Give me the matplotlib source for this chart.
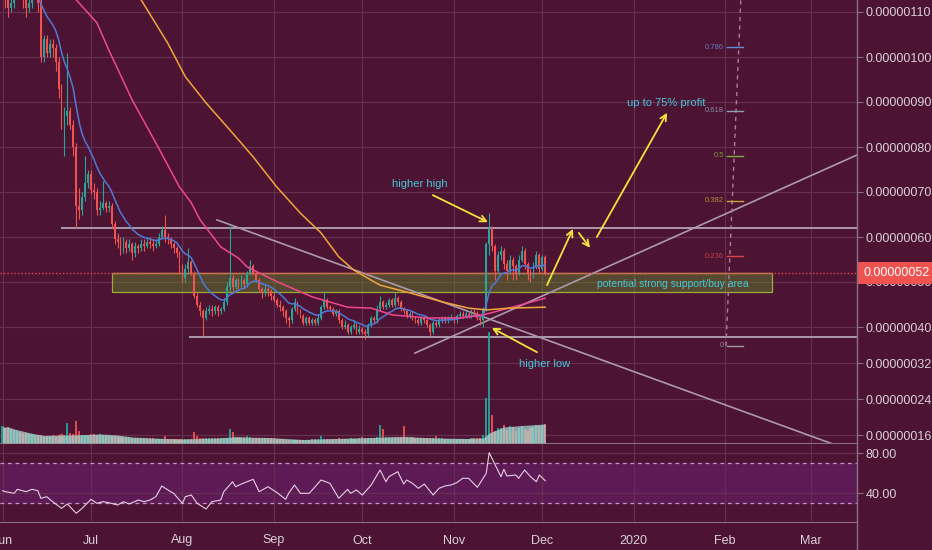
import numpy as np
import pandas as pd
import matplotlib
matplotlib.use('Agg')
import matplotlib.pyplot as plt
from matplotlib.patches import Rectangle
from matplotlib.lines import Line2D

plt.rcParams['font.family'] = ['Liberation Sans', 'DejaVu Sans']

# prices in units of 1e-8 (axis shows 0.000000xx), x = days since 2019-06-01
start = pd.Timestamp('2019-06-01')
first_open = 115

closes = [
    # Jun
    116, 113, 111, 112, 115, 117, 116, 113, 111, 112, 114, 116, 112, 100, 104,
    101, 103, 102, 99, 93, 85, 87, 88, 85, 80, 67, 66, 69, 72, 74,
    # Jul
    70.5, 70, 66, 66.5, 67.5, 66.5, 67, 63, 59.5, 59, 57, 59, 57.5, 58.5, 56.5, 58,
    57.5, 58.5, 58, 59, 58.5, 58, 58.5, 60, 61.5, 60, 59.5, 58.5, 57.5, 56.5, 53,
    # Aug
    51, 53, 54.5, 52, 47, 45, 43.5, 42, 43.5, 44, 43.5, 44.5, 43.5, 44, 45.5, 49,
    51, 49, 50.5, 49.5, 50.5, 49.5, 52, 53.5, 52, 50.5, 48.5, 47.5, 48.5, 48, 47,
    # Sep
    46, 45, 44.5, 43.5, 42, 41.5, 44, 45.5, 43.5, 42.5, 41, 42, 41, 41.5, 41,
    42, 44.5, 46, 44.5, 44, 43, 43.5, 41.5, 40, 40.5, 39, 40, 40.5, 39, 39.5,
    # Oct
    39, 38.5, 40.5, 42, 41.5, 44, 45.5, 44.5, 45, 46, 45, 46.5, 45.5, 44, 43.5, 42.5,
    43, 42, 41.5, 41, 42, 41.5, 40.5, 39, 41, 40.5, 41.5, 42, 41.5, 42, 42,
    # Nov
    41.5, 42.5, 43, 42.5, 43, 42.5, 43.5, 43, 42, 41.5, 44, 58.5, 62, 58, 52.5,
    56, 57, 54, 52.5, 55, 53.5, 52, 55, 57, 54, 52, 51.5, 53.5, 56, 53,
    # Dec
    55.5, 52,
]
highs = [
    118, 118, 114, 113, 116, 119, 118, 117, 114, 113, 115, 117, 117, 113, 105,
    105, 104, 104, 103, 100, 94, 89, 101, 89, 86, 81, 71, 70, 78, 75,
    75, 72, 71, 68, 72.5, 68, 68, 67.5, 63.5, 61, 60, 60, 59.5, 59.5, 59, 59,
    58.5, 59.5, 59.5, 60, 60, 59.5, 59.5, 61, 62.5, 65, 61, 60, 59, 58, 57,
    54, 54, 57.5, 55, 52.5, 47.5, 45.5, 44, 44.5, 45, 45, 45, 45, 44.5, 46.5, 50,
    62.5, 51.5, 51, 51, 51.5, 51, 52.5, 55, 54, 52.5, 51, 49, 49.5, 49, 48.5,
    47.5, 46.5, 46, 45, 44, 42.5, 44.5, 46.5, 45.5, 44, 43, 42.5, 42.5, 42, 42,
    43, 45, 48, 46.5, 45, 44.5, 44, 44, 42, 41.5, 41, 40.5, 41.5, 41, 40.5,
    40, 39.5, 41, 42.5, 42.5, 45, 47, 46, 45.5, 46.5, 46.5, 47.5, 47, 46, 44.5, 44,
    43.5, 43.5, 42.5, 42, 42.5, 42.5, 42, 41, 41.5, 41.5, 42, 42.5, 42.5, 42.5, 43,
    42.5, 43, 43.5, 43.5, 43.5, 43.5, 44, 44, 43.5, 42.5, 44.5, 59, 65.3, 62.5, 58.5,
    57, 58, 57.5, 55, 56, 55.5, 54, 56, 58, 57.5, 54.5, 53, 54.5, 57, 56.5,
    56, 56,
]
lows = [
    113, 111, 109, 110, 111, 114, 114, 111, 109, 110, 111, 113, 110, 99, 99,
    100, 100, 100, 97, 91, 84, 78, 85, 84, 78, 62, 64, 65, 68, 71,
    69.5, 68.5, 65, 65, 66, 65.5, 65.5, 62, 58.5, 57.5, 56, 56.5, 56.5, 57, 55, 55.5,
    56.5, 57, 57, 57.5, 57.5, 57, 57.5, 58, 59.5, 59, 58.5, 57.5, 56.5, 55.5, 52,
    50, 50, 52, 51.5, 46.5, 44.5, 42.5, 38, 41.5, 43, 42.5, 43, 42.5, 43, 43.5, 45,
    48, 48, 48.5, 48.5, 49, 48.5, 49, 51.5, 51.5, 50, 48, 46.5, 47, 47, 46,
    45.5, 44.5, 43.5, 42.5, 41, 40, 41, 43.5, 43, 42, 40.5, 40.5, 40.5, 40.5, 40.5,
    40.5, 41.5, 44, 44, 43.5, 42.5, 42.5, 41, 39.5, 39.5, 38.5, 38.5, 39.5, 38.5, 38.5,
    38.5, 37.3, 38, 40, 41, 41, 43.5, 44, 44, 44.5, 44.5, 44.5, 45, 43.5, 43, 42,
    42, 41.5, 41, 40.5, 40.5, 41, 40, 38, 38.5, 40, 40, 41, 41, 41, 41.5,
    41, 41, 42, 42, 42, 42, 42, 42.5, 41.5, 40.5, 40, 43.5, 56, 57, 50.5,
    52, 55, 53, 50.5, 52, 50.5, 50.5, 51.5, 54.5, 53, 50.5, 50, 51, 53, 52,
    52.5, 51.5,
]
volume = [
    17, 15, 16, 14, 13, 12, 11, 10, 10, 9, 9, 8, 8, 8, 7,
    7, 7, 8, 7, 8, 9, 8, 20, 10, 9, 22, 12, 8, 8, 8,
    9, 9, 8, 9, 8, 8, 8, 7, 7, 7, 6, 6, 6, 6, 5, 5,
    5, 5, 5, 5, 5, 5, 4.5, 4.5, 4.5, 7, 4, 4, 4, 4, 4,
    4, 4, 4, 4, 11, 7, 5, 5, 5, 5, 5, 5, 5, 5.5, 5, 5,
    14, 11, 6, 6, 6, 6, 7, 6, 5.5, 5.5, 5.5, 5.5, 5.5, 5, 5,
    5, 4.5, 4, 4, 3.5, 3.5, 3.5, 3.5, 3.5, 3.5, 3.5, 3.5, 3.5, 4, 4,
    4, 7, 4, 4, 4, 4, 4, 5, 4.5, 4.5, 4.5, 5, 4.5, 4.5, 5,
    6, 5, 5, 5.5, 5.5, 6, 18, 14, 6, 6, 6, 6, 6, 6.5, 17, 6,
    6, 6, 5.5, 5.5, 5.5, 5, 5, 5, 5, 7, 5, 5, 4.5, 4.5, 4.5,
    4.5, 4.5, 4.5, 4.5, 4.5, 4.5, 5, 5, 5, 5, 8, 45, 111, 28, 12,
    15, 15, 18, 13, 17, 16, 12, 15, 17, 14, 12, 15, 16, 18, 17,
    18, 19,
]

# volume moving average
vol_ma_days = [0, 2, 4, 10, 14, 22, 29, 33, 39, 44, 50, 56, 61, 73, 78, 90, 102,
               113, 125, 136, 147, 158, 163, 165, 170, 176, 184]
vol_ma_vals = [16, 16, 14, 9.7, 7.5, 8, 8.5, 9, 8, 6, 5, 4.5, 4, 5, 6, 5.5, 3.5,
               4.5, 5.5, 6.5, 5, 4.5, 5, 10, 16, 17.5, 19]

# slow moving averages
pink_days = [25, 32, 36, 44, 52, 60, 64, 67, 74, 80, 83, 94, 105, 117, 125, 132,
             144, 155, 163, 174, 184]
pink_vals = [112.7, 107.6, 101.6, 90.4, 80.9, 71.1, 67.6, 63.8, 57.8, 55.3, 53.3,
             49.8, 46.7, 44.4, 44.2, 42.7, 42.0, 42.0, 42.7, 44.6, 46.4]
yellow_days = [47, 56, 62, 69, 78, 85, 93, 101, 108, 114, 119, 125, 128, 138, 149,
               158, 164, 172, 184]
yellow_vals = [112.7, 103.1, 95.6, 89.8, 83.1, 77.8, 71.1, 65.3, 60.9, 55.6, 52.7,
               50.4, 49.3, 47.6, 45.6, 44.2, 43.8, 44.2, 44.4]

rsi_days = [0, 1, 4, 5, 8, 10, 12, 13, 15, 17, 20, 22, 25, 27, 30, 32, 34, 36, 39,
            41, 43, 46, 48, 50, 52, 54, 57, 58, 61, 62, 64, 66, 69, 71, 74, 75, 78,
            79, 81, 85, 87, 90, 93, 96, 97, 99, 101, 104, 108, 111, 114, 117, 118,
            120, 122, 125, 128, 130, 131, 134, 136, 137, 139, 141, 143, 146, 148,
            150, 152, 154, 156, 158, 161, 164, 165, 169, 170, 171, 174, 175, 177,
            179, 181, 182, 184]
rsi_vals = [42.3, 41.3, 39.7, 43.7, 41.3, 43.7, 42.3, 34.7, 36.3, 31.3, 24.7, 29,
            19.7, 24.7, 33.7, 29.7, 31.3, 30.3, 28, 31.3, 29, 33, 31.3, 33, 36.3, 47,
            41.3, 39.7, 29.7, 36.3, 38, 29.7, 24, 31.3, 33, 41.3, 51.3, 46.3, 49, 53.7,
            41.3, 46.3, 40.5, 33.7, 39.7, 48, 39.7, 39.7, 53, 49.7, 34.7, 43.7, 39.7,
            43, 38, 48, 63, 51.3, 56.3, 61.3, 49, 53, 49.7, 44.7, 49, 38, 44.7, 47,
            48, 50.3, 54.7, 54.7, 45.7, 59.7, 80.3, 56.3, 63.7, 57, 58, 54.7, 63,
            56.3, 51.3, 58, 52.3]

price_ticks = [16, 24, 32, 40, 50, 60, 70, 80, 90, 100, 110]
rsi_ticks = [40, 80]

# drawings
resistance = (20.2, 62.0)          # start day, level
support = (63.6, 37.8)
zone = (37.1, 260.9, 47.8, 52.0)   # x0, x1, low, high
desc_line = [(72.7, 63.8), (284.0, 13.4)]
asc_line = [(139.8, 34.2), (292.0, 78.9)]
fib_low, fib_high = 35.8, 120.3
fib_ratios = [0, 0.236, 0.382, 0.5, 0.618, 0.786]
fib_colors = ['#a09aa0', '#d9454a', '#c2a53e', '#7cad45', '#8aa3b3', '#5f8fd6']
fib_x = (245.6, 251.0)
fib_diag = [(245.3, fib_low), (250.8, fib_high)]
arrows = [((145.9, 69.3), (164.6, 63.3)),
          ((181.2, 34.4), (165.9, 39.8)),
          ((184.6, 49.3), (193.4, 61.8)),
          ((195.4, 60.9), (199.2, 57.6)),
          ((201.5, 60.0), (225.3, 87.6))]
notes = [("higher high", 141.5, 71.8),
         ("higher low", 183.9, 31.8),
         ("up to 75% profit", 224.9, 89.8),
         ("potential strong support/buy area", 227.3, 49.6)]

BG = '#4d1333'
GRID = '#63304f'
AXIS = '#8a6f82'
TXT = '#d9d2d8'
UP = '#26a69a'
DOWN = '#ef5350'
CYAN = '#45c6d8'
YEL = '#f2e43c'
DRAW = '#ab9aab'

W, H = 932, 550
fig = plt.figure(figsize=(W / 100, H / 100), dpi=100, facecolor=BG)
ax = fig.add_axes([0, 1 - 443 / H, 857 / W, 443 / H])
rax = fig.add_axes([0, 1 - 522 / H, 857 / W, 78 / H])
for a in (ax, rax):
    a.set_facecolor(BG)
    for s in ('left', 'top'):
        a.spines[s].set_visible(False)
    a.spines['right'].set_color(AXIS)
    a.spines['bottom'].set_color(AXIS)

xlim = (-0.85, 289.7)
month_starts = pd.date_range('2019-06-01', '2020-03-01', freq='MS')
month_pos = [(m - start).days for m in month_starts]
month_lbl = ['2020' if m.month == 1 else m.strftime('%b') for m in month_starts]

# ---- candles
c = np.array(closes, dtype=float)
o = np.concatenate([[first_open], c[:-1]])
hi = np.maximum(np.array(highs, dtype=float), np.maximum(o, c))
lo = np.minimum(np.array(lows, dtype=float), np.minimum(o, c))
days = np.arange(len(c))
cols = np.where(c >= o, UP, DOWN)
ax.vlines(days, lo, hi, colors=cols, lw=0.8, zorder=3)
ax.bar(days, np.maximum(np.abs(c - o), 0.25), bottom=np.minimum(o, c), width=0.62,
       color=cols, linewidth=0, zorder=3.1)

ema = pd.Series(c).ewm(span=12, adjust=False).mean()
ax.plot(days, ema, color='#4f79d6', lw=1.1, zorder=4)
ax.plot(pink_days, pink_vals, color='#f0488c', lw=1.1, zorder=4)
ax.plot(yellow_days, yellow_vals, color='#f0a53a', lw=1.1, zorder=4)

# ---- drawings
ax.plot([resistance[0], xlim[1]], [resistance[1]] * 2, color=DRAW, lw=1.4, zorder=2)
ax.plot([support[0], xlim[1]], [support[1]] * 2, color=DRAW, lw=1.4, zorder=2)
ax.add_patch(Rectangle((zone[0], zone[2]), zone[1] - zone[0], zone[3] - zone[2],
                       facecolor='#62922a', alpha=0.42, edgecolor='none', zorder=1.5))
ax.add_patch(Rectangle((zone[0], zone[2]), zone[1] - zone[0], zone[3] - zone[2],
                       facecolor='none', edgecolor='#9aab3c', lw=0.9, zorder=1.6))
ax.plot([zone[0], zone[1]], [zone[3], zone[3]], color='#c08a52', lw=0.9, zorder=1.7)
for ln in (desc_line, asc_line):
    ax.plot([ln[0][0], ln[1][0]], [ln[0][1], ln[1][1]], color=DRAW, lw=1.2, zorder=2)

ax.axhline(c[-1], color='#e8434d', lw=1, ls=(0, (1, 1.5)), zorder=2.5)

# fibonacci
ax.plot([p[0] for p in fib_diag], [p[1] for p in fib_diag], color='#b27a9e', lw=1,
        ls=(0, (3, 3)), zorder=2)
for r, col in zip(fib_ratios, fib_colors):
    lvl = fib_low + r * (fib_high - fib_low)
    ax.plot(fib_x, [lvl, lvl], color=col, lw=1, zorder=2)
    ax.text(fib_x[0] - 1.0, lvl, f"{r:g}", color=col, fontsize=5.5, ha='right',
            va='center', alpha=0.85, zorder=2)

for tail, head in arrows:
    ax.annotate('', xy=head, xytext=tail,
                arrowprops=dict(arrowstyle='->', color=YEL, lw=1.3, shrinkA=0,
                                shrinkB=0, mutation_scale=11), zorder=6)
for txt, x, y in notes:
    fs = 7.5 if len(txt) > 20 else 8
    ax.text(x, y, txt, color=CYAN, fontsize=fs, ha='center', va='center', zorder=6)

# ---- volume
vax = ax.twinx()
vax.set_ylim(0, 443)
vax.set_xlim(*xlim)
vax.bar(days, volume, width=0.7, color=cols, alpha=0.9, linewidth=0, zorder=1)
vax.fill_between(vol_ma_days, 0, vol_ma_vals, color='#a9dbd3', alpha=0.72, lw=0, zorder=2)
vax.axis('off')

# ---- main axis styling
ax.set_xlim(*xlim)
ax.set_ylim(110 - 431 / 4.5, 110 + 12 / 4.5)
ax.set_xticks(month_pos)
ax.set_xticklabels([])
ax.tick_params(axis='x', length=0)
ax.yaxis.tick_right()
ax.set_yticks(price_ticks)
ax.set_yticklabels([f"{p * 1e-8:.8f}" for p in price_ticks])
ax.tick_params(axis='y', length=4, color=AXIS, labelcolor=TXT, labelsize=9, pad=2)
ax.grid(True, color=GRID, lw=0.9)
ax.set_axisbelow(True)

# ---- RSI
rax.set_xlim(*xlim)
rax.set_ylim(11, 89)
rax.axhspan(30, 70, color='#5e1a55', zorder=0)
for lv in (30, 70):
    rax.axhline(lv, color='#c296bb', lw=0.9, ls=(0, (3, 3)), zorder=1)
rax.plot(rsi_days, rsi_vals, color='#e6cfe4', lw=0.8, zorder=3)
rax.yaxis.tick_right()
rax.set_yticks(rsi_ticks)
rax.set_yticklabels([f"{v:.2f}" for v in rsi_ticks])
rax.set_xticks(month_pos)
rax.set_xticklabels(month_lbl)
rax.tick_params(axis='y', length=4, color=AXIS, labelcolor=TXT, labelsize=9, pad=2)
rax.tick_params(axis='x', length=0, labelcolor=TXT, labelsize=9, pad=9)
rax.grid(True, color=GRID, lw=0.9)
rax.set_axisbelow(True)

# right price axis line and last-price label
fig.add_artist(Line2D([857 / W] * 2, [0, 1], transform=fig.transFigure, color=AXIS, lw=1))
last_y = 1 - (12 + (110 - c[-1]) * 4.5) / H
fig.add_artist(Rectangle((857.5 / W, last_y - 11 / H), 75 / W, 22 / H,
                         transform=fig.transFigure, facecolor='#ef5350', edgecolor='none'))
fig.text(863 / W, last_y, f"{c[-1] * 1e-8:.8f}", color='white', fontsize=9,
         va='center', ha='left')

fig.savefig('out.png', dpi=100, facecolor=BG)
